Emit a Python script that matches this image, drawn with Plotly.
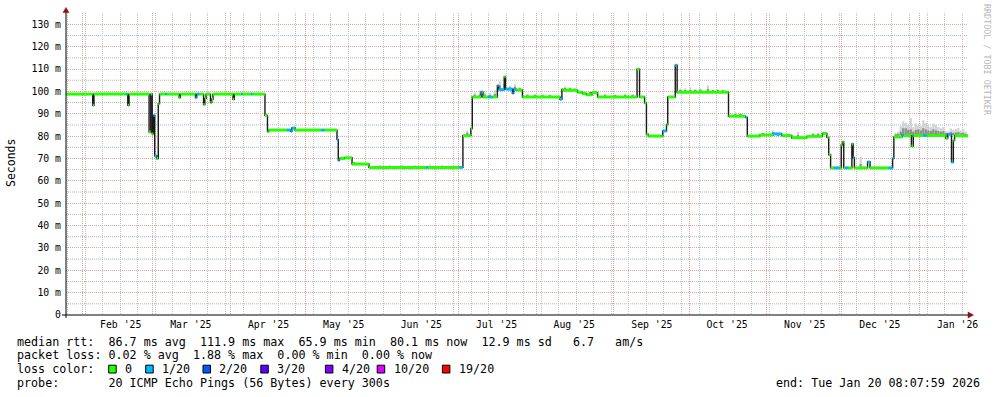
import plotly.graph_objects as go

# ---------------- data ----------------
X_START = "2025-01-25 08:07:59"
X_END = "2026-01-20 08:07:59"

FIRST_MONTH = "2025-02-01"
MONTH_FORMAT = "%b '%y"
FIRST_SUNDAY = "2025-02-02"

Y_MAJOR_STEP = 10
Y_MINOR_LINES = [5, 15, 25, 35, 45, 55, 65, 75, 85, 95, 105, 115, 125]
Y_UNIT = " m"

# median rtt (ms), step series: value holds from this time to the next one
MED_TIME = [
    "2025-01-25 08:08", "2025-02-05 00:00", "2025-02-05 12:00", "2025-02-18 06:00",
    "2025-02-18 18:00", "2025-02-19 00:00", "2025-02-19 12:00", "2025-02-27 12:00",
    "2025-02-28 04:00", "2025-02-28 18:00", "2025-03-01 06:00", "2025-03-01 18:00",
    "2025-03-02 12:00", "2025-03-03 04:00", "2025-03-03 16:00", "2025-03-06 00:00",
    "2025-03-06 12:00", "2025-03-11 12:00", "2025-03-12 00:00", "2025-03-18 00:00",
    "2025-03-18 12:00", "2025-03-19 12:00", "2025-03-21 06:00", "2025-03-21 18:00",
    "2025-03-22 06:00", "2025-03-24 00:00", "2025-03-24 12:00", "2025-03-25 00:00",
    "2025-04-02 00:00", "2025-04-02 12:00", "2025-04-05 06:00", "2025-04-05 18:00",
    "2025-04-09 06:00", "2025-04-09 18:00", "2025-04-14 18:00", "2025-04-15 18:00",
    "2025-04-16 06:00", "2025-04-23 12:00", "2025-04-25 00:00", "2025-04-25 12:00",
    "2025-04-26 18:00", "2025-05-07 06:00", "2025-05-08 12:00", "2025-05-13 12:00",
    "2025-05-14 00:00", "2025-05-14 12:00", "2025-05-16 12:00", "2025-05-19 12:00",
    "2025-05-26 06:00", "2025-06-18 00:00", "2025-06-18 18:00", "2025-07-01 12:00",
    "2025-07-02 18:00", "2025-07-05 22:00", "2025-07-06 12:00", "2025-07-10 00:00",
    "2025-07-10 18:00", "2025-07-13 00:00", "2025-07-14 12:00", "2025-07-16 12:00",
    "2025-07-17 00:00", "2025-07-19 06:00", "2025-07-19 18:00", "2025-07-22 12:00",
    "2025-07-23 00:00", "2025-07-24 00:00", "2025-07-26 12:00", "2025-08-10 12:00",
    "2025-08-11 06:00", "2025-08-11 18:00", "2025-08-17 12:00", "2025-08-19 12:00",
    "2025-08-21 00:00", "2025-08-23 06:00", "2025-08-25 12:00", "2025-09-10 06:00",
    "2025-09-11 06:00", "2025-09-13 06:00", "2025-09-14 00:00", "2025-09-14 18:00",
    "2025-09-20 12:00", "2025-09-22 00:00", "2025-09-22 12:00", "2025-09-25 12:00",
    "2025-09-26 06:00", "2025-10-16 18:00", "2025-10-23 12:00", "2025-10-24 06:00",
    "2025-10-29 06:00", "2025-11-03 12:00", "2025-11-07 00:00", "2025-11-11 00:00",
    "2025-11-17 00:00", "2025-11-23 06:00", "2025-11-25 00:00", "2025-11-25 18:00",
    "2025-11-26 12:00", "2025-11-28 00:00", "2025-11-30 00:00", "2025-11-30 18:00",
    "2025-12-01 06:00", "2025-12-01 18:00", "2025-12-02 12:00", "2025-12-03 12:00",
    "2025-12-05 00:00", "2025-12-05 12:00", "2025-12-06 00:00", "2025-12-11 06:00",
    "2025-12-12 06:00", "2025-12-19 18:00", "2025-12-21 06:00", "2025-12-21 18:00",
    "2025-12-25 00:00", "2025-12-25 18:00", "2025-12-28 18:00", "2025-12-29 12:00",
    "2026-01-02 12:00", "2026-01-03 18:00", "2026-01-11 12:00", "2026-01-12 06:00",
    "2026-01-13 18:00", "2026-01-14 12:00", "2026-01-15 00:00", "2026-01-19 12:00",
]
MED_MS = [
    98.8, 93.8, 98.8, 98.8, 98.8, 93.8, 98.8, 81.8,
    98.8, 81.0, 89.3, 71.2, 70.0, 94.5, 98.8, 98.8,
    98.8, 97.2, 98.8, 97.2, 98.8, 98.8, 94.1, 96.8,
    98.8, 95.0, 96.5, 98.8, 96.5, 98.8, 98.8, 98.8,
    98.8, 98.8, 89.3, 82.0, 82.7, 82.7, 82.2, 83.6,
    82.7, 82.7, 82.7, 78.5, 69.2, 70.0, 70.3, 67.5,
    66.0, 66.0, 66.0, 66.0, 80.2, 83.4, 97.5, 99.7,
    97.5, 97.5, 97.5, 102.5, 100.8, 106.5, 101.0, 99.2,
    101.0, 100.6, 97.5, 96.5, 100.9, 100.5, 99.6, 99.0,
    98.5, 99.4, 97.5, 109.9, 97.5, 94.8, 80.8, 80.0,
    82.3, 85.2, 97.5, 111.7, 99.6, 88.9, 88.4, 80.0,
    80.5, 81.0, 80.2, 79.3, 79.9, 81.2, 79.5, 71.7,
    65.8, 65.8, 65.8, 76.0, 77.4, 65.8, 65.8, 65.8,
    76.5, 70.4, 65.8, 68.4, 65.8, 65.8, 70.0, 79.6,
    80.4, 80.2, 75.5, 80.3, 80.3, 80.3, 79.0, 80.8,
    68.4, 78.1, 80.2, 80.1,
]
# packet loss bucket index (0 -> 0 lost, 1 -> 1/20 lost, ...)
MED_LOSS = [
    0, 0, 0, 1, 0, 0, 0, 0,
    0, 0, 1, 1, 0, 0, 0, 1,
    0, 0, 0, 1, 1, 0, 0, 0,
    0, 0, 0, 0, 0, 0, 1, 0,
    1, 0, 0, 0, 0, 1, 1, 1,
    0, 1, 0, 1, 1, 0, 0, 0,
    0, 1, 0, 1, 0, 0, 0, 1,
    0, 1, 0, 1, 1, 0, 1, 1,
    1, 0, 0, 1, 0, 0, 0, 0,
    0, 0, 0, 0, 0, 0, 0, 0,
    1, 0, 0, 1, 0, 0, 1, 0,
    0, 1, 0, 0, 0, 0, 0, 0,
    0, 1, 0, 0, 0, 0, 1, 0,
    0, 1, 0, 1, 0, 1, 1, 0,
    1, 0, 0, 0, 1, 0, 0, 1,
    1, 0, 0, 0,
]

# "smoke": spread of the individual pings above the median
SMOKE_TIME = [
    "2025-05-20 12:00", "2025-05-30 12:00", "2025-06-03 12:00", "2025-06-08 12:00",
    "2025-06-13 12:00", "2025-06-19 12:00", "2025-06-24 12:00",
    "2025-07-04 12:00", "2025-07-07 12:00", "2025-07-09 12:00", "2025-07-11 12:00",
    "2025-07-13 12:00", "2025-07-15 12:00", "2025-07-17 12:00", "2025-07-19 12:00",
    "2025-07-21 12:00", "2025-07-23 12:00", "2025-07-25 12:00", "2025-07-28 12:00",
    "2025-07-31 12:00", "2025-08-03 12:00", "2025-08-06 12:00", "2025-08-12 12:00",
    "2025-08-14 12:00", "2025-08-16 12:00", "2025-08-20 12:00", "2025-08-22 12:00",
    "2025-08-24 12:00", "2025-08-28 12:00", "2025-09-01 12:00", "2025-09-05 12:00",
    "2025-09-08 12:00",
    "2025-09-27 12:00", "2025-09-29 12:00", "2025-10-01 12:00", "2025-10-03 12:00",
    "2025-10-05 12:00", "2025-10-08 12:00", "2025-10-10 12:00", "2025-10-12 12:00",
    "2025-10-14 12:00", "2025-10-19 12:00", "2025-10-21 12:00",
    "2025-10-30 12:00", "2025-11-03 12:00", "2025-11-05 12:00", "2025-11-09 12:00",
    "2025-11-13 12:00", "2025-11-19 12:00", "2025-11-21 12:00", "2025-12-08 12:00",
    "2025-12-22 12:00", "2025-12-23 12:00", "2025-12-24 12:00", "2025-12-25 12:00",
    "2025-12-26 12:00", "2025-12-27 12:00", "2025-12-28 12:00", "2025-12-29 12:00",
    "2025-12-30 12:00", "2025-12-31 12:00", "2026-01-01 12:00", "2026-01-02 12:00",
    "2026-01-03 12:00", "2026-01-04 12:00", "2026-01-05 12:00", "2026-01-06 12:00",
    "2026-01-07 12:00", "2026-01-08 12:00", "2026-01-09 12:00", "2026-01-10 12:00",
    "2026-01-11 12:00", "2026-01-12 12:00", "2026-01-13 12:00", "2026-01-14 12:00",
    "2026-01-15 12:00", "2026-01-16 12:00", "2026-01-17 12:00", "2026-01-18 12:00",
    "2026-01-19 12:00",
]
SMOKE_LOW = [
    67.7, 66.2, 66.2, 66.2, 66.2, 66.2, 66.2,
    80.5, 97.8, 97.8, 97.8, 97.8, 97.8, 101.0, 101.2, 101.0, 101.0, 100.8, 97.8,
    97.8, 97.8, 97.8, 100.7, 100.7, 100.7, 99.2, 99.0, 99.6, 97.8, 97.8, 97.8,
    97.8,
    99.9, 99.9, 99.9, 99.9, 99.9, 99.9, 99.9, 99.9, 99.9, 89.1, 89.1,
    80.7, 81.2, 80.4, 80.4, 79.5, 80.1, 80.1, 66.0,
    80.0, 80.3, 80.4, 80.6, 80.4, 80.4, 80.4, 80.4, 80.5, 80.5, 80.5, 80.5,
    80.5, 80.5, 80.5, 80.5, 80.5, 80.5, 80.5, 80.5, 80.5, 81.0, 80.5, 80.4,
    80.4, 80.4, 80.4, 80.4, 80.3,
]
SMOKE_MID = [
    68.0, 66.5, 66.4, 66.5, 66.4, 66.6, 66.4,
    81.5, 98.5, 98.6, 98.5, 98.4, 98.8, 102.5, 103.5, 101.8, 102.0, 101.2, 98.2,
    98.2, 98.2, 98.1, 101.5, 101.2, 101.0, 99.6, 99.4, 100.0, 98.3, 98.2, 98.3,
    98.2,
    100.4, 100.5, 100.6, 100.4, 100.8, 101.0, 100.3, 100.4, 100.2, 89.8, 89.5,
    81.0, 81.8, 80.8, 80.7, 80.5, 80.6, 80.8, 67.5,
    80.8, 81.0, 82.0, 83.5, 83.5, 82.8, 83.0, 82.0, 82.8, 83.0, 82.5, 83.5,
    83.0, 82.5, 82.3, 83.0, 82.6, 82.3, 82.0, 82.2, 81.3, 81.3, 81.8, 81.5,
    81.6, 81.8, 81.3, 81.5, 81.0,
]
SMOKE_HIGH = [
    68.4, 67.0, 66.8, 67.2, 66.9, 67.3, 66.8,
    82.6, 99.5, 100.4, 99.5, 99.2, 100.5, 104.5, 106.4, 102.5, 103.2, 101.8, 99.0,
    98.8, 98.7, 98.5, 102.3, 101.8, 101.5, 100.0, 99.8, 100.3, 99.0, 98.5, 99.0,
    98.8,
    101.2, 101.3, 101.8, 101.0, 101.3, 102.7, 100.8, 101.0, 100.6, 90.8, 90.2,
    81.4, 82.6, 81.3, 81.2, 82.0, 81.4, 81.4, 70.7,
    81.5, 82.0, 84.5, 86.6, 86.0, 85.0, 88.1, 84.0, 85.6, 85.0, 84.5, 87.1,
    86.0, 84.8, 84.0, 85.6, 85.0, 84.1, 83.5, 84.0, 82.2, 82.0, 83.4, 82.8,
    83.2, 83.6, 82.5, 83.0, 82.0,
]

LOSS_LABELS = ["0", "1/20", "2/20", "3/20", "4/20", "10/20", "19/20"]
LOSS_COLORS = ["#26ff00", "#00b8ff", "#0059ff", "#5e00ff", "#7e00ff", "#dd00ff", "#ff0000"]

STATS_RTT = "median rtt:  86.7 ms avg  111.9 ms max  65.9 ms min  80.1 ms now  12.9 ms sd   6.7   am/s"
STATS_LOSS = "packet loss: 0.02 % avg  1.88 % max  0.00 % min  0.00 % now"
PROBE_TEXT = "probe:       20 ICMP Echo Pings (56 Bytes) every 300s"
END_TEXT = "end: Tue Jan 20 08:07:59 2026"
Y_TITLE = "Seconds"
WATERMARK = "RRDTOOL / TOBI OETIKER"

# ---------------- layout geometry (pixels) ----------------
W, H = 997, 397
PL, PR, PT, PB = 66, 968, 13, 315  # plot area edges
MONO = "DejaVu Sans Mono"
Y_TOP = (PB - PT) / 2.236


def px(x):
    return (x - PL) / (PR - PL)


def py(y):
    return (PB - y) / (PB - PT)


fig = go.Figure()

# empty trace that pins the weekly minor-grid overlay axis
fig.add_trace(go.Scatter(x=[], y=[], xaxis="x2", yaxis="y", hoverinfo="skip"))

# smoke
fig.add_trace(go.Bar(
    x=SMOKE_TIME, base=SMOKE_LOW,
    y=[h - l for h, l in zip(SMOKE_HIGH, SMOKE_LOW)],
    width=0.9 * 86400000, marker=dict(color="#d2d2d2", line=dict(width=0)),
    hoverinfo="skip"))
fig.add_trace(go.Bar(
    x=SMOKE_TIME, base=SMOKE_LOW,
    y=[m - l for m, l in zip(SMOKE_MID, SMOKE_LOW)],
    width=0.9 * 86400000, marker=dict(color="#8e8e8e", line=dict(width=0)),
    hoverinfo="skip"))

# dark median step line
fig.add_trace(go.Scatter(
    x=MED_TIME + [X_END], y=MED_MS + [MED_MS[-1]], mode="lines",
    line=dict(color="#1a1a1a", width=1.4, shape="hv"), hoverinfo="skip"))

# loss-coloured band along the median (horizontal pieces only)
ends = MED_TIME[1:] + [X_END]
for li, col in enumerate(LOSS_COLORS):
    xs, ys = [], []
    for t0, t1, v, l in zip(MED_TIME, ends, MED_MS, MED_LOSS):
        if l == li:
            xs += [t0, t1, None]
            ys += [v, v, None]
    if xs:
        fig.add_trace(go.Scatter(x=xs, y=ys, mode="lines",
                                 line=dict(color=col, width=3), hoverinfo="skip"))

grid_major = "#e2a2a2"
grid_minor = "#b4b4b4"
tickfont = dict(family=MONO, size=9.8, color="black")

fig.update_layout(
    xaxis=dict(
        type="date", range=[X_START, X_END],
        tickmode="linear", tick0=FIRST_MONTH, dtick="M1", tickformat=MONTH_FORMAT,
        ticklabelshift=38, ticklabelstandoff=2,
        showgrid=True, gridcolor=grid_major, griddash="1px,1px", gridwidth=1,
        showline=False, zeroline=False, ticks="", tickfont=tickfont,
    ),
    xaxis2=dict(
        type="date", range=[X_START, X_END], overlaying="x",
        tickmode="linear", tick0=FIRST_SUNDAY, dtick=7 * 86400000,
        showgrid=True, gridcolor="#c4c4c4", griddash="1px,1px", gridwidth=1,
        showticklabels=False, showline=False, zeroline=False, ticks="",
    ),
    yaxis=dict(
        range=[0, Y_TOP],
        tickmode="linear", tick0=0, dtick=Y_MAJOR_STEP, ticksuffix=Y_UNIT,
        labelalias={"0" + Y_UNIT: "0"}, ticklabelstandoff=4,
        showgrid=True, gridcolor=grid_major, griddash="1px,1px", gridwidth=1,
        showline=False, zeroline=False, ticks="", tickfont=tickfont,
    ),
)

shapes = []
# minor horizontal grid
for gy in Y_MINOR_LINES:
    shapes.append(dict(type="line", xref="paper", yref="y", layer="below",
                       x0=0, x1=1, y0=gy, y1=gy,
                       line=dict(color=grid_minor, width=1, dash="1px,1px")))
# axes
shapes.append(dict(type="line", xref="paper", yref="paper",
                   x0=px(62), x1=px(969), y0=py(315), y1=py(315),
                   line=dict(color="black", width=1)))
shapes.append(dict(type="line", xref="paper", yref="paper",
                   x0=px(66), x1=px(66), y0=py(318), y1=py(11),
                   line=dict(color="black", width=1)))
# arrow heads
shapes.append(dict(type="path", xref="paper", yref="paper",
                   path=f"M {px(63)} {py(12.5)} L {px(66)} {py(7.5)} L {px(69)} {py(12.5)} Z",
                   fillcolor="#8b1010", line=dict(color="#8b1010", width=0.5)))
shapes.append(dict(type="path", xref="paper", yref="paper",
                   path=f"M {px(968)} {py(312)} L {px(973.5)} {py(315)} L {px(968)} {py(318)} Z",
                   fillcolor="#8b1010", line=dict(color="#8b1010", width=0.5)))

annotations = []


def text(x, y, s, size=11.7, anchor="left", color="black", angle=0, yanchor="middle"):
    annotations.append(dict(x=px(x), y=py(y), xref="paper", yref="paper", text=s,
                            showarrow=False, xanchor=anchor, yanchor=yanchor,
                            textangle=angle, borderpad=0,
                            font=dict(family=MONO, size=size, color=color)))


text(11, 163, Y_TITLE, size=11.5, anchor="center", angle=-90)
text(987, 60, WATERMARK, size=8.4, anchor="center", angle=90, color="#b8b8b8")
text(16, 341.5, STATS_RTT.replace(" ", "&nbsp;"))
text(16, 355, STATS_LOSS.replace(" ", "&nbsp;"))
text(16, 369.3, "loss&nbsp;color:")
text(16, 382.7, PROBE_TEXT.replace(" ", "&nbsp;"))
text(981, 382.7, END_TEXT.replace(" ", "&nbsp;"), anchor="right")

LEGEND_BOX_X = [108.7, 145.7, 203.0, 260.8, 325.4, 377.2, 442.4]
for bx, lab, col in zip(LEGEND_BOX_X, LOSS_LABELS, LOSS_COLORS):
    shapes.append(dict(type="rect", xref="paper", yref="paper",
                       x0=px(bx), x1=px(bx + 7.5), y0=py(373), y1=py(365.2),
                       fillcolor=col, line=dict(color="black", width=1)))
    text(bx + 15.3, 369.3, lab.replace(" ", "&nbsp;"))

fig.update_layout(
    width=W, height=H,
    margin=dict(l=PL, r=W - PR, t=PT, b=H - PB, pad=0),
    paper_bgcolor="white", plot_bgcolor="rgba(0,0,0,0)",
    showlegend=False, barmode="overlay",
    shapes=shapes, annotations=annotations,
    font=dict(family=MONO, size=9.8, color="black"),
)

fig.write_html("out.html")
